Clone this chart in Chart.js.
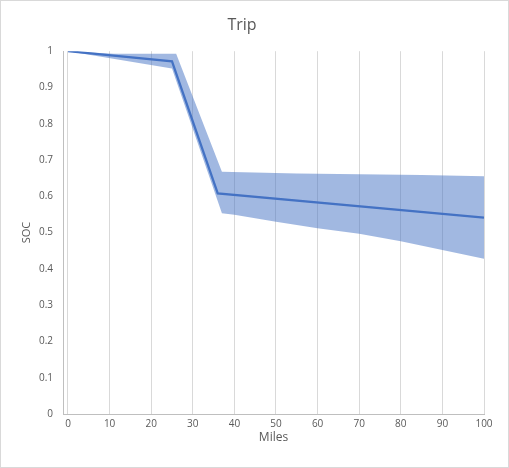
<!DOCTYPE html>
<html>
<head>
<meta charset="utf-8">
<script src="https://cdn.jsdelivr.net/npm/chart.js@4"></script>
<style>
  html, body { margin: 0; padding: 0; background: #fff; }
  #wrap { width: 509px; height: 468px; position: relative; }
</style>
</head>
<body>
<div id="wrap"><canvas id="tripChart" width="509" height="468"></canvas></div>
<script>
// SOC along the trip (mean line plus spread band)
const lineMiles = [0, 25, 36, 100];
const lineSoc = [1, 0.972, 0.608, 0.541];

const upperMiles = [0, 11, 26, 37, 55, 70, 85, 100];
const upperSoc = [1, 0.993, 0.993, 0.668, 0.663, 0.661, 0.659, 0.655];

const lowerMiles = [0, 25, 37, 40, 50, 60, 70, 80, 90, 100];
const lowerSoc = [1, 0.952, 0.553, 0.549, 0.530, 0.512, 0.497, 0.476, 0.452, 0.428];

const xTicks = [0, 10, 20, 30, 40, 50, 60, 70, 80, 90, 100];
const yTicks = [0, 0.1, 0.2, 0.3, 0.4, 0.5, 0.6, 0.7, 0.8, 0.9, 1];

const pts = (xs, ys) => xs.map((x, i) => ({ x: x, y: ys[i] }));

const textColor = '#595959';
const fontFamily = '"Open Sans", "Noto Sans", sans-serif';

// light frame around the whole picture
const framePlugin = {
    id: 'frame',
    afterDraw(chart) {
        const c = chart.ctx;
        c.save();
        c.strokeStyle = '#d9d9d9';
        c.lineWidth = 1;
        c.strokeRect(0.5, 0.5, chart.width - 1, chart.height - 1);
        c.restore();
    }
};

const ctx = document.getElementById('tripChart').getContext('2d');
const tripChart = new Chart(ctx, {
    type: 'line',
    data: {
        datasets: [
            {
                label: 'Upper',
                data: pts(upperMiles, upperSoc),
                borderWidth: 0,
                pointRadius: 0,
                backgroundColor: 'rgba(68,114,196,0.5)',
                fill: '+1',
                order: 2
            },
            {
                label: 'Lower',
                data: pts(lowerMiles, lowerSoc),
                borderWidth: 0,
                pointRadius: 0,
                fill: false,
                order: 3
            },
            {
                label: 'SOC',
                data: pts(lineMiles, lineSoc),
                borderColor: '#4472c4',
                borderWidth: 2.25,
                pointRadius: 0,
                fill: false,
                order: 1
            }
        ]
    },
    options: {
        responsive: false,
        animation: false,
        layout: { padding: { left: 0, right: 25, top: 0, bottom: 0 } },
        plugins: {
            legend: { display: false },
            tooltip: { enabled: false },
            title: {
                display: true,
                text: 'Trip',
                color: textColor,
                font: { family: fontFamily, size: 16, weight: 'normal' },
                padding: { top: 16, bottom: 16 }
            }
        },
        scales: {
            x: {
                type: 'linear',
                min: -1.2,
                max: 100,
                afterBuildTicks: s => { s.ticks = xTicks.map(v => ({ value: v })); },
                afterFit: s => { s.height = 54; },
                grid: { color: '#d9d9d9', drawTicks: false },
                border: { color: '#bfbfbf' },
                ticks: {
                    color: textColor,
                    padding: 4,
                    maxRotation: 0,
                    font: { family: fontFamily, size: 10 }
                },
                title: {
                    display: true,
                    text: 'Miles',
                    color: textColor,
                    font: { family: fontFamily, size: 12 },
                    padding: { top: 0, bottom: 23 }
                }
            },
            y: {
                min: 0,
                max: 1,
                afterBuildTicks: s => { s.ticks = yTicks.map(v => ({ value: v })); },
                afterFit: s => { s.width = 63; },
                grid: { display: false, drawTicks: false },
                border: { color: '#bfbfbf' },
                ticks: {
                    color: textColor,
                    padding: 10,
                    font: { family: fontFamily, size: 10 },
                    callback: v => String(v)
                },
                title: {
                    display: true,
                    text: 'SOC',
                    color: textColor,
                    font: { family: fontFamily, size: 11 },
                    padding: { top: 20, bottom: 0 }
                }
            }
        }
    },
    plugins: [framePlugin]
});
</script>
</body>
</html>
